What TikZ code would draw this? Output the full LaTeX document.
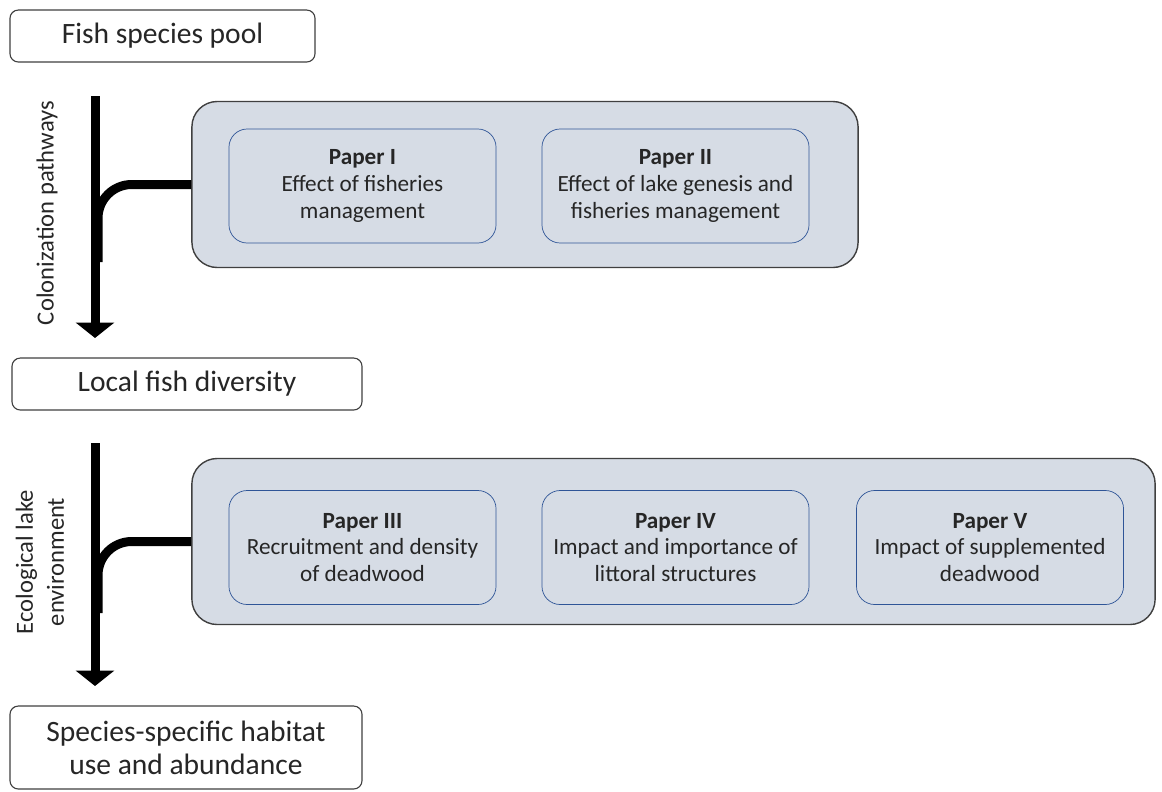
\documentclass[tikz,border=0pt]{standalone}
\usepackage{fontspec}
\setmainfont{Carlito}
\usetikzlibrary{arrows.meta, positioning}

\definecolor{groupfill}{HTML}{D6DCE5}
\definecolor{paperline}{HTML}{2F5597}
\definecolor{boxline}{HTML}{404040}

\begin{document}
\begin{tikzpicture}[
  x=0.025cm, y=-0.025cm,
  text=black!85,
  stagebox/.style = {draw=boxline, line width=0.8pt, rounded corners=6pt,
                     fill=white, align=center,
                     font=\fontsize{21}{23.5}\selectfont},
  groupbox/.style = {draw=boxline, line width=1pt, rounded corners=18pt,
                     fill=groupfill, minimum height=4.15cm},
  paperbox/.style = {draw=paperline, line width=0.5pt, rounded corners=13pt,
                     fill=groupfill, minimum width=6.675cm, minimum height=2.85cm,
                     align=center, font=\fontsize{16.5}{19}\selectfont},
  sidelabel/.style = {rotate=90, align=center, font=\fontsize{17.5}{22}\selectfont},
  flow/.style = {line width=6.4pt, -{Triangle[width=27pt, length=11pt]}},
  branch/.style = {line width=6.4pt, rounded corners=24pt}
]
\useasboundingbox (0,0) rectangle (1162,791);

% Stages
\node[stagebox, minimum width=7.625cm, minimum height=1.3cm] (pool) at (162.5,36) {Fish species pool};
\node[stagebox, minimum width=8.75cm, minimum height=1.3cm] (local) at (187,384) {Local fish diversity};
\node[stagebox, minimum width=8.8cm, minimum height=2.075cm] (habitat) at (186,747.5) {Species-specific habitat\\use and abundance};

% Group of papers 1
\node[groupbox, minimum width=16.65cm] (group1) at (525,184.5) {};
\node[paperbox] (paper1) at (362.5,186) {\textbf{Paper I}\\Effect of fisheries\\management};
\node[paperbox] (paper2) at (675.5,186) {\textbf{Paper II}\\Effect of lake genesis and\\fisheries management};

% Group of papers 2
\node[groupbox, minimum width=24.075cm] (group2) at (673.5,541.5) {};
\node[paperbox] (paper3) at (362.5,547.5) {\textbf{Paper III}\\Recruitment and density\\of deadwood};
\node[paperbox] (paper4) at (675.5,547.5) {\textbf{Paper IV}\\Impact and importance of\\littoral structures};
\node[paperbox] (paper5) at (990,547.5) {\textbf{Paper V}\\Impact of supplemented\\deadwood};

% Flow arrows
\coordinate (top1) at (95,96);
\coordinate (tip1) at (95,338);
\coordinate (top2) at (95,443);
\coordinate (tip2) at (95,686);
\coordinate (foot1) at (98,262);
\coordinate (foot2) at (98,613);

\draw[flow] (top1) -- (tip1);
\draw[flow] (top2) -- (tip2);
\draw[branch] (foot1) |- (group1.west);
\draw[branch] (foot2) |- (group2.west);

% Side labels
\node[sidelabel] (colon) at (47,213) {Colonization pathways};
\node[sidelabel] (ecol) at (40,562) {Ecological lake\\environment};

\end{tikzpicture}
\end{document}
